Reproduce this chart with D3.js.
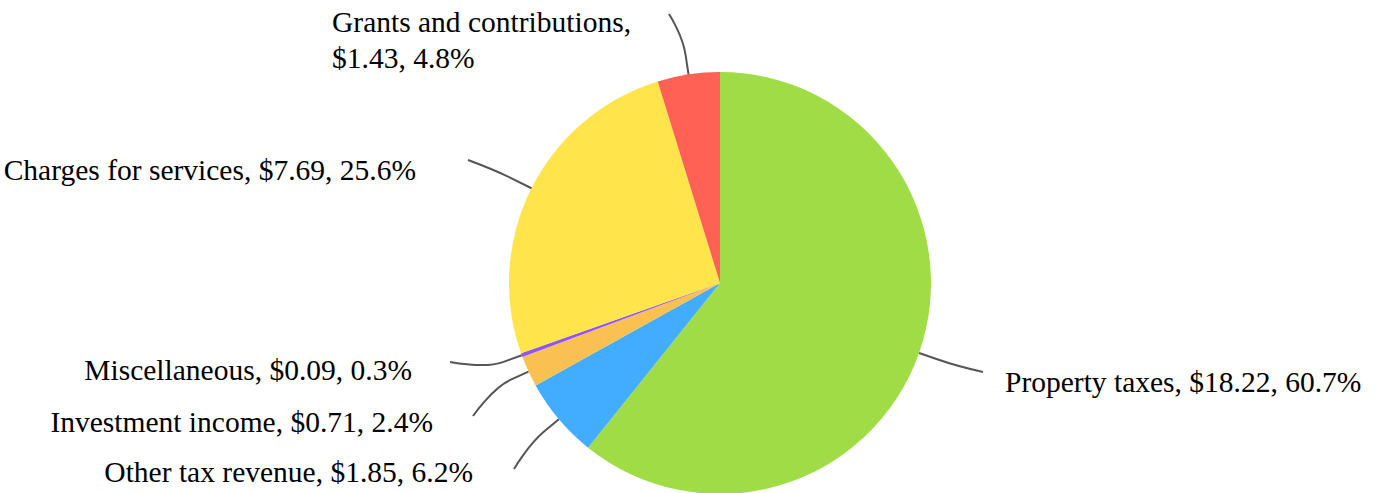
<!DOCTYPE html>
<html>
<head>
<meta charset="utf-8">
<script src="https://cdn.jsdelivr.net/npm/d3@7"></script>
<style>
  body { margin: 0; background: #fff; }
  .label { font-family: "Liberation Serif", "Times New Roman", serif; font-size: 29.5px; fill: #000; }
  .connector { fill: none; stroke: #555; stroke-width: 2; }
</style>
</head>
<body>
<svg width="1380" height="493"></svg>
<script>
const categories = ["Property taxes", "Other tax revenue", "Investment income", "Miscellaneous", "Charges for services", "Grants and contributions"];
const values = [18.22, 1.85, 0.71, 0.09, 7.69, 1.43];
const percents = ["60.7%", "6.2%", "2.4%", "0.3%", "25.6%", "4.8%"];
const colors = ["#9fdc46", "#42acff", "#fbc052", "#9055ff", "#ffe44c", "#ff6155"];

// label layout: where each connector ends, and where its text sits
const labelEnds = [[983, 372], [514, 469], [473, 416], [450, 362], [468, 160], [669, 14]];
const labelText = [[1005, 392, "start"], [473, 482, "end"], [433, 432, "end"], [412, 380, "end"], [416, 180, "end"], [332, 32, "start"]];

const svg = d3.select("svg");
const cx = 720, cy = 283, radius = 211;

const data = categories.map((c, i) => ({name: c, value: values[i], pct: percents[i], color: colors[i], end: labelEnds[i], txt: labelText[i]}));

const pie = d3.pie().value(d => d.value).sort(null);
const arc = d3.arc().innerRadius(0).outerRadius(radius);
const arcs = pie(data);

const g = svg.append("g").attr("transform", `translate(${cx},${cy})`);

g.selectAll("path.slice")
  .data(arcs)
  .enter()
  .append("path")
  .attr("class", "slice")
  .attr("d", arc)
  .attr("fill", d => d.data.color);

// soft connectors: label end -> point just outside the slice -> slice edge
const edgeAt = (a, r) => [Math.sin(a) * r, -Math.cos(a) * r];
g.selectAll("path.connector")
  .data(arcs)
  .enter()
  .append("path")
  .attr("class", "connector")
  .attr("d", d => {
    const mid = (d.startAngle + d.endAngle) / 2;
    const edge = edgeAt(mid, radius);
    const out = edgeAt(mid, radius + 20);
    const lx = d.data.end[0] - cx, ly = d.data.end[1] - cy;
    const p = d3.path();
    p.moveTo(lx, ly);
    p.bezierCurveTo(lx, ly, 2 * out[0] - edge[0], 2 * out[1] - edge[1], out[0], out[1]);
    p.lineTo(edge[0], edge[1]);
    return p.toString();
  });

// labels
arcs.forEach(d => {
  const [tx, ty, anchor] = d.data.txt;
  if (d.data.name === "Grants and contributions") {
    const t = svg.append("text").attr("class", "label").attr("text-anchor", anchor);
    t.append("tspan").attr("x", tx).attr("y", ty).text(`${d.data.name},`);
    t.append("tspan").attr("x", tx).attr("y", ty + 36).text(`$${d.data.value.toFixed(2)}, ${d.data.pct}`);
  } else {
    svg.append("text")
      .attr("class", "label")
      .attr("x", tx)
      .attr("y", ty)
      .attr("text-anchor", anchor)
      .text(`${d.data.name}, $${d.data.value.toFixed(2)}, ${d.data.pct}`);
  }
});
</script>
</body>
</html>
